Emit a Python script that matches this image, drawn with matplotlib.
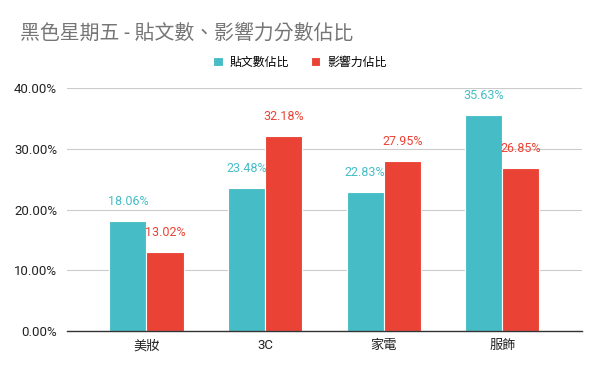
import matplotlib.pyplot as plt
import numpy as np

# === Data ===
categories = ["美妝", "3C", "家電", "服飾"]
post_share = [18.06, 23.48, 22.83, 35.63]      # 貼文數佔比 (%)
impact_share = [13.02, 32.18, 27.95, 26.85]    # 影響力佔比 (%)
series_names = ["貼文數佔比", "影響力佔比"]
y_ticks = [0, 10, 20, 30, 40]

# === Style ===
TEAL = "#46BDC6"
RED = "#EA4335"
plt.rcParams['font.family'] = ['Roboto', 'Noto Sans CJK TC', 'DejaVu Sans']

fig = plt.figure(figsize=(6, 3.71), dpi=100)
ax = fig.add_axes([0.1117, 0.1078, 0.858, 0.655])

x = np.arange(len(categories))
w = 0.313
b1 = ax.bar(x - w / 2, post_share, w, color=TEAL, edgecolor="white", linewidth=0.8,
            label=series_names[0], zorder=3)
b2 = ax.bar(x + w / 2, impact_share, w, color=RED, edgecolor="white", linewidth=0.8,
            label=series_names[1], zorder=3)

# data labels
for bars, vals, col in [(b1, post_share, TEAL), (b2, impact_share, RED)]:
    for bar, v in zip(bars, vals):
        ax.annotate(f"{v:.2f}%", (bar.get_x() + bar.get_width() / 2, v),
                    xytext=(0, 14), textcoords="offset points",
                    ha="center", va="center", fontsize=9, color=col, zorder=4)

ax.set_xlim(-0.67, 3.67)
ax.set_ylim(0, 40)
ax.set_yticks(y_ticks)
ax.set_yticklabels([f"{t:.2f}%" for t in y_ticks])
ax.set_xticks(x)
ax.set_xticklabels(categories)
ax.tick_params(axis="both", length=0, labelsize=9.5, colors="#222222")
ax.tick_params(axis="y", pad=7)
ax.tick_params(axis="x", pad=6)
ax.grid(axis="y", color="#CCCCCC", linewidth=0.8, zorder=0)
for s in ["top", "right", "left"]:
    ax.spines[s].set_visible(False)
ax.spines["bottom"].set_color("#333333")
ax.spines["bottom"].set_linewidth(1)
ax.spines["bottom"].set_zorder(5)

fig.text(20 / 600, 1 - 33 / 371, "黑色星期五 - 貼文數、影響力分數佔比",
         fontsize=14.3, color="#757575", ha="left", va="center")

fig.legend(handles=[b1, b2], loc="center", bbox_to_anchor=(300 / 600, 1 - 62 / 371),
           ncol=2, frameon=False, fontsize=8.6, handlelength=0.8, handleheight=0.8,
           handletextpad=0.6, columnspacing=1.8)

fig.savefig("out.png", dpi=100)
